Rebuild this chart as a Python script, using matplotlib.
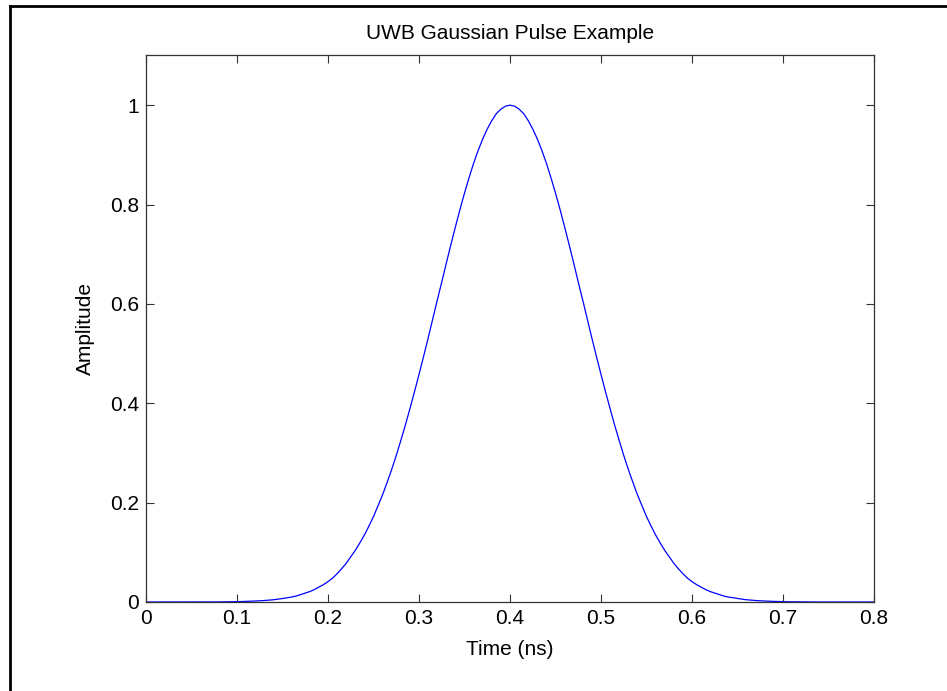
import matplotlib
matplotlib.use("Agg")
import matplotlib.pyplot as plt
from matplotlib.lines import Line2D

plt.rcParams['font.family'] = ['Liberation Sans', 'DejaVu Sans']

# pulse: one half, from the peak (0.4 ns) outwards, every 0.005 ns
half_pulse = [
    1.000, 0.998, 0.992, 0.983, 0.969, 0.952, 0.932, 0.909, 0.883, 0.854,
    0.823, 0.790, 0.755, 0.719, 0.682, 0.644, 0.607, 0.569, 0.531, 0.494,
    0.458, 0.423, 0.389, 0.356, 0.325, 0.295, 0.267, 0.241, 0.216, 0.194,
    0.172, 0.153, 0.135, 0.119, 0.104, 0.091, 0.078, 0.067, 0.057, 0.048,
    0.041, 0.035, 0.030, 0.025, 0.021, 0.018, 0.015, 0.012, 0.010, 0.0085,
    0.007, 0.0057, 0.0045, 0.0037, 0.003, 0.0024, 0.002, 0.0015, 0.0012, 0.0009,
    0.0007, 0.0005, 0.0004, 0.0003, 0.0002, 0.0001, 0.0001,
    0, 0, 0, 0, 0, 0, 0, 0, 0, 0, 0, 0, 0, 0,
]
# the pulse is symmetric
amplitude = half_pulse[::-1] + half_pulse[1:]
time_ns = [0.005 * i for i in range(len(amplitude))]

xticks = [0, 0.1, 0.2, 0.3, 0.4, 0.5, 0.6, 0.7, 0.8]
xticklabels = ['0', '0.1', '0.2', '0.3', '0.4', '0.5', '0.6', '0.7', '0.8']
yticks = [0, 0.2, 0.4, 0.6, 0.8, 1.0]
yticklabels = ['0', '0.2', '0.4', '0.6', '0.8', '1']

fig = plt.figure(figsize=(9.47, 6.91), dpi=100)
ax = fig.add_axes([0.1542, 0.1288, 0.7687, 0.7909])

ax.plot(time_ns, amplitude, color='#0000ff', lw=0.9)

ax.set_xlim(0, 0.8)
ax.set_ylim(0, 1.1)
ax.set_xticks(xticks)
ax.set_xticklabels(xticklabels)
ax.set_yticks(yticks)
ax.set_yticklabels(yticklabels)
ax.tick_params(direction='in', length=6, width=0.8, top=True, right=True,
               labelsize=15, pad=5, color='#333333')
for s in ax.spines.values():
    s.set_linewidth(0.9)
    s.set_color('#333333')

ax.set_title('UWB Gaussian Pulse Example', fontsize=15, pad=12)
ax.set_xlabel('Time (ns)', fontsize=15, labelpad=9)
ax.set_ylabel('Amplitude', fontsize=15, labelpad=11)

# outer frame (only left and top edges show in the picture)
fig.add_artist(Line2D([0.0106, 0.0106], [0, 0.9913], color='black', lw=2, transform=fig.transFigure))
fig.add_artist(Line2D([0.0106, 1], [0.9913, 0.9913], color='black', lw=2, transform=fig.transFigure))

fig.savefig('out.png', dpi=100)
